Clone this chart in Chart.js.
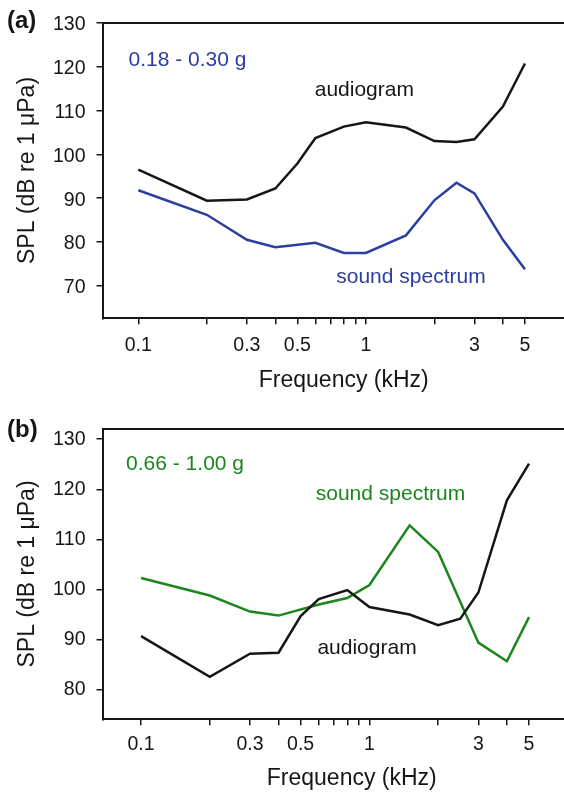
<!DOCTYPE html>
<html>
<head>
<meta charset="utf-8">
<script src="https://cdn.jsdelivr.net/npm/chart.js@4.4.1/dist/chart.umd.min.js"></script>
<style>
  html, body { margin: 0; padding: 0; background: #fff; overflow: hidden; width: 564px; height: 792px; }
  canvas { position: absolute; left: 0; }
  #panelA { top: 0; }
  #panelB { top: 406px; }
</style>
</head>
<body>
<canvas id="panelA" width="585" height="394"></canvas>
<canvas id="panelB" width="601" height="386"></canvas>
<script>
// frequencies in kHz, levels in dB re 1 uPa
const freqAudA = [0.1, 0.2, 0.3, 0.4, 0.5, 0.6, 0.8, 1, 1.5, 2, 2.5, 3, 4, 5];
const audiogramA = [96.5, 89.4, 89.7, 92.2, 97.9, 103.7, 106.3, 107.3, 106.1, 103.0, 102.8, 103.4, 110.9, 120.7];
const freqSpecA = [0.1, 0.2, 0.3, 0.4, 0.6, 0.8, 1, 1.5, 2, 2.5, 3, 4, 5];
const spectrumA = [91.8, 86.2, 80.5, 78.8, 79.8, 77.5, 77.5, 81.5, 89.5, 93.5, 91.1, 80.5, 73.8];

const freqAudB = [0.1, 0.2, 0.3, 0.4, 0.5, 0.6, 0.8, 1, 1.5, 2, 2.5, 3, 4, 5];
const audiogramB = [90.7, 82.6, 87.2, 87.4, 94.7, 98.1, 99.9, 96.5, 95.0, 92.9, 94.2, 99.4, 117.8, 125.1];
const freqSpecB = [0.1, 0.2, 0.3, 0.4, 0.6, 0.8, 1, 1.5, 2, 3, 4, 5];
const spectrumB = [102.3, 98.8, 95.6, 94.8, 97.0, 98.3, 100.9, 112.8, 107.5, 89.4, 85.7, 94.5];

const freqTicks = [0.1, 0.2, 0.3, 0.4, 0.5, 0.6, 0.7, 0.8, 0.9, 1, 2, 3, 4, 5];
const freqLabels = ['0.1', '', '0.3', '', '0.5', '', '', '', '', '1', '', '3', '', '5'];
const splTicksA = [70, 80, 90, 100, 110, 120, 130];
const splTicksB = [80, 90, 100, 110, 120, 130];

const INK = '#161616';
const BLUE = '#2c3e9f';
const GREEN = '#1b861c';

Chart.defaults.font.family = '"Liberation Sans", Arial, Helvetica, sans-serif';
Chart.defaults.color = INK;

// free text labels anchored in data units + the panel letter
const textLabels = {
  id: 'textLabels',
  afterDatasetsDraw(chart, args, opts) {
    const { ctx, scales: { x, y } } = chart;
    ctx.save();
    ctx.textAlign = 'left';
    ctx.textBaseline = 'alphabetic';
    opts.items.forEach(it => {
      ctx.font = '21px "Liberation Sans", Arial, sans-serif';
      ctx.fillStyle = it.color;
      ctx.fillText(it.text, x.getPixelForValue(it.at[0]), y.getPixelForValue(it.at[1]));
    });
    ctx.font = 'bold 24px "Liberation Sans", Arial, sans-serif';
    ctx.fillStyle = INK;
    ctx.textBaseline = 'middle';
    ctx.fillText(opts.tag, 7, opts.tagY);
    ctx.restore();
  }
};

const pairs = (xs, ys) => xs.map((f, i) => ({ x: f, y: ys[i] }));

function makePanel(id, p) {
  const axisLine = { display: true, color: INK, width: 2 };
  return new Chart(document.getElementById(id), {
    type: 'line',
    data: {
      datasets: [
        { data: pairs(p.audFreq, p.aud), borderColor: INK },
        { data: pairs(p.specFreq, p.spec), borderColor: p.specColor }
      ]
    },
    options: {
      responsive: false,
      animation: false,
      layout: { padding: { top: 15, left: 0, right: 0, bottom: 0 } },
      elements: {
        point: { radius: 0 },
        line: { borderWidth: 2.5, tension: 0, fill: false }
      },
      plugins: {
        legend: { display: false },
        tooltip: { enabled: false },
        textLabels: { tag: p.tag, tagY: p.tagY, items: p.labels }
      },
      scales: {
        x: {
          type: 'logarithmic',
          min: p.xMin, max: p.xMax,
          afterFit: s => { s.height = p.xAxisHeight; },
          afterBuildTicks: s => { s.ticks = freqTicks.map(v => ({ value: v })); },
          ticks: {
            autoSkip: false, maxRotation: 0, padding: p.xTickPad,
            font: { size: 19.5 }, color: INK,
            callback: (v, i) => freqLabels[i]
          },
          grid: { drawOnChartArea: false, tickLength: 6, color: INK, lineWidth: 1.5 },
          border: axisLine,
          title: { display: true, text: 'Frequency (kHz)', font: { size: 23 }, color: INK, padding: 0 }
        },
        x2: {
          type: 'logarithmic', position: 'top',
          min: p.xMin, max: p.xMax,
          afterFit: s => { s.height = 0; },
          ticks: { display: false },
          grid: { drawOnChartArea: false, drawTicks: false },
          border: axisLine
        },
        y: {
          min: p.yMin, max: p.yMax,
          afterFit: s => { s.width = 102.5; },
          afterBuildTicks: s => { s.ticks = p.yTicks.map(v => ({ value: v })); },
          ticks: { padding: 11, font: { size: 19.5 }, color: INK, labelOffset: p.yLabelOffset },
          grid: { drawOnChartArea: false, tickLength: 6, color: INK, lineWidth: 1.5 },
          border: axisLine,
          title: {
            display: true, text: 'SPL (dB re 1 μPa)', font: { size: 23 }, color: INK,
            padding: { top: 13.7, bottom: 0 }
          }
        }
      }
    },
    plugins: [textLabels]
  });
}

makePanel('panelA', {
  tag: '(a)', tagY: 21,
  audFreq: freqAudA, aud: audiogramA,
  specFreq: freqSpecA, spec: spectrumA, specColor: BLUE,
  xMin: 0.0696, xMax: 9.18, yMin: 62.6, yMax: 130, yTicks: splTicksA,
  xAxisHeight: 75.7, xTickPad: 10, yLabelOffset: 2,
  labels: [
    { text: '0.18 - 0.30 g', at: [0.0905, 120.16], color: BLUE },
    { text: 'audiogram', at: [0.596, 113.2], color: INK },
    { text: 'sound spectrum', at: [0.741, 70.7], color: BLUE }
  ]
});

makePanel('panelB', {
  tag: '(b)', tagY: 24,
  audFreq: freqAudB, aud: audiogramB,
  specFreq: freqSpecB, spec: spectrumB, specColor: GREEN,
  xMin: 0.0678, xMax: 10.33, yMin: 74.11, yMax: 132.08, yTicks: splTicksB,
  xAxisHeight: 72.7, xTickPad: 7.7, yLabelOffset: 0,
  labels: [
    { text: '0.66 - 1.00 g', at: [0.086, 123.86], color: GREEN },
    { text: 'sound spectrum', at: [0.582, 117.84], color: GREEN },
    { text: 'audiogram', at: [0.592, 87.05], color: INK }
  ]
});
</script>
</body>
</html>
